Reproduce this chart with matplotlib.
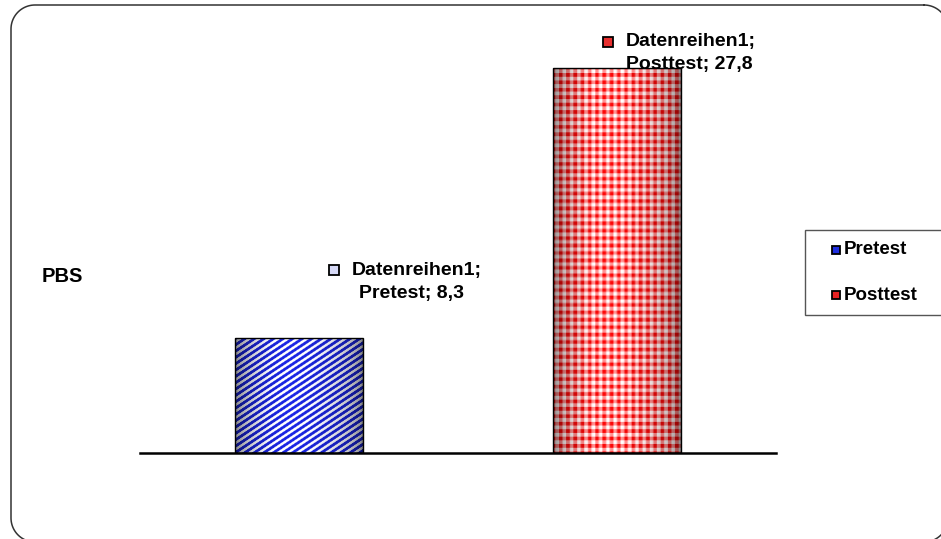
import numpy as np
import matplotlib
matplotlib.use("Agg")
import matplotlib.pyplot as plt
from matplotlib.patches import Rectangle
from matplotlib.transforms import offset_copy

# ---- data -------------------------------------------------------------
categories = ["Pretest", "Posttest"]
series_name = "Datenreihen1"
values = [8.3, 27.8]
value_texts = ["8,3", "27,8"]
axis_title = "PBS"

# ---- styling ------------------------------------------------------------
plt.rcParams["font.family"] = ["Liberation Sans", "DejaVu Sans"]
FS = 14
W, H = 941, 539

fig = plt.figure(figsize=(W / 100, H / 100), dpi=100)
fig.patch.set_facecolor("white")


def fx(px):
    return px / W


def fy(py):
    return 1 - py / H


# background layer in pixel units (origin top-left) for frame, title, legend
bg = fig.add_axes([0, 0, 1, 1], zorder=-1)
bg.set_xlim(0, W)
bg.set_ylim(H, 0)
bg.axis("off")


def rounded_rect(x0, y0, x1, y1, r, n=24):
    pts = []
    corners = [((x1 - r, y0 + r), 90, 0),     # top-right
               ((x1 - r, y1 - r), 0, -90),    # bottom-right
               ((x0 + r, y1 - r), -90, -180),  # bottom-left
               ((x0 + r, y0 + r), 180, 90)]   # top-left
    for (cx, cy), a0, a1 in corners:
        t = np.radians(np.linspace(a0, a1, n))
        pts.append(np.column_stack([cx + r * np.cos(t), cy - r * np.sin(t)]))
    pts = np.vstack(pts + [pts[0][:1]])
    return pts[:, 0], pts[:, 1]


fxs, fys = rounded_rect(11, 5, 948, 542, 24)
bg.plot(fxs, fys, color="#333333", linewidth=1.1, clip_on=True)

ax = fig.add_axes([fx(140), fy(453), fx(776) - fx(140), fy(37.5) - fy(453)])
ax.set_xlim(-0.5, 1.5)
ax.set_ylim(0, 30)
ax.set_facecolor("none")
for s in ("top", "right", "left"):
    ax.spines[s].set_visible(False)
ax.spines["bottom"].set_linewidth(1.8)
ax.spines["bottom"].set_color("black")
ax.spines["bottom"].set_zorder(5)
ax.set_xticks([])
ax.set_yticks([])

x = np.arange(len(categories))
bars = ax.bar(x, values, width=0.4, facecolor="none", edgecolor="black",
              linewidth=1.0, zorder=3)


def cylinder_shade(u, lo=0.38):
    u = np.clip(u, 0, 1)
    base = np.sin(np.pi * u) ** 0.4
    hi = 0.10 * np.exp(-((u - 0.4) / 0.2) ** 2)
    return lo + (1 - lo) * base + hi


def stripes_texture(wpx, hpx):
    i, j = np.mgrid[0:hpx, 0:wpx].astype(float)
    P, k = 9.5, 1.5
    d = ((j + k * i) % P) / P
    s = 0.5 + 0.5 * np.cos(2 * np.pi * d)
    s = np.clip((s - 0.45) * 2.8 + 0.5, 0, 1)[..., None]
    white = np.array([246, 246, 252]) / 255
    blue = np.array([25, 35, 210]) / 255
    col = white * (1 - s) + blue * s
    u = (j + 0.5) / wpx
    sh = cylinder_shade(u)[..., None]
    return np.clip(col * sh, 0, 1)


def gingham_texture(wpx, hpx):
    i, j = np.mgrid[0:hpx, 0:wpx].astype(float)
    Pv, Ph = 7.4, 7.2
    r = 0.5 + 0.5 * np.cos(2 * np.pi * (i % Pv) / Pv)
    c = 0.5 + 0.5 * np.cos(2 * np.pi * (j % Ph) / Ph)
    r = np.clip((r - 0.5) * 3 + 0.5, 0, 1)
    c = np.clip((c - 0.5) * 3 + 0.5, 0, 1)
    v = (r + c)[..., None] / 2
    white = np.array([253, 242, 242]) / 255
    pink = np.array([248, 135, 135]) / 255
    red = np.array([232, 8, 8]) / 255
    col = np.where(v < 0.5, white + (pink - white) * (v * 2),
                   pink + (red - pink) * ((v - 0.5) * 2))
    u = (j + 0.5) / wpx
    sh = cylinder_shade(u, lo=0.45)[..., None]
    return np.clip(col * sh, 0, 1)


textures = [stripes_texture, gingham_texture]
for b, tex in zip(bars, textures):
    x0, y0 = b.get_x(), b.get_y()
    x1, y1 = x0 + b.get_width(), y0 + b.get_height()
    (px0, py0), (px1, py1) = ax.transData.transform([(x0, y0), (x1, y1)])
    wpx, hpx = int(round(px1 - px0)), int(round(py1 - py0))
    img = tex(wpx, hpx)
    im = ax.imshow(img, extent=(x0, x1, y0, y1), aspect="auto",
                   interpolation="bilinear", zorder=2)
    im.set_clip_path(b)

# data labels: marker + "series;" on line 1, "category; value" on line 2
marker_faces = ["#d6d9f7", "#e83030"]
marker_off = [(34.5, -68), (-9.5, -26)]   # pixels from bar top centre
line2_dx = [25.5, 19.0]
for i, (cat, val, vt) in enumerate(zip(categories, values, value_texts)):
    mdx, mdy = marker_off[i]
    tr_m = offset_copy(ax.transData, fig=fig, x=mdx, y=-mdy, units="dots")
    ax.plot([i], [val], marker="s", markersize=6.5, markerfacecolor=marker_faces[i],
            markeredgecolor="black", markeredgewidth=1.3, transform=tr_m,
            zorder=6, clip_on=False)
    tr1 = offset_copy(ax.transData, fig=fig, x=mdx + 18.5, y=-mdy, units="dots")
    ax.text(i, val, f"{series_name};", transform=tr1, ha="left", va="center",
            fontsize=FS, fontweight="bold", zorder=7, clip_on=False)
    tr2 = offset_copy(ax.transData, fig=fig, x=mdx + line2_dx[i], y=-mdy - 23,
                      units="dots")
    ax.text(i, val, f"{cat}; {vt}", transform=tr2, ha="left", va="center",
            fontsize=FS, fontweight="bold", zorder=7, clip_on=False)

# axis title
bg.text(42, 276, axis_title, ha="left", va="center",
        fontsize=FS + 0.5, fontweight="bold")

# legend box
bg.add_patch(Rectangle((805, 230), 145, 85, facecolor="white",
                       edgecolor="#555555", linewidth=1.0))
legend_faces = ["#1f2ee0", "#e82222"]
legend_y = [250, 295]
for cat, fc, ly in zip(categories, legend_faces, legend_y):
    bg.add_patch(Rectangle((832, ly - 4), 8, 8, facecolor=fc,
                           edgecolor="black", linewidth=1.3))
    bg.text(843.5, ly, cat, ha="left", va="center",
            fontsize=FS - 0.5, fontweight="bold")

fig.savefig("out.png", dpi=100, facecolor="white")
